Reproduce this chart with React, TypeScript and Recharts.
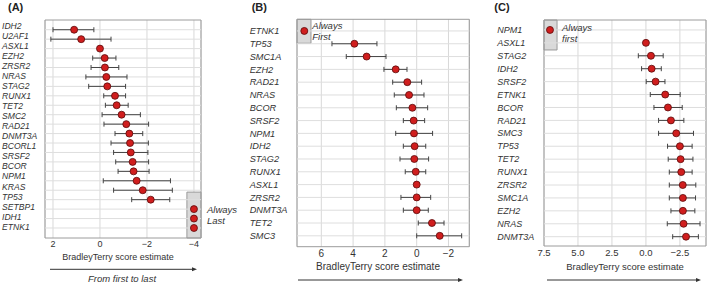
import { ScatterChart, Scatter, XAxis, YAxis, CartesianGrid, ErrorBar, ReferenceArea, ReferenceLine } from 'recharts'

// (A) from first to last: 22 fitted rows, 21 gene labels down the side
const genesA = ['IDH2', 'U2AF1', 'ASXL1', 'EZH2', 'ZRSR2', 'NRAS', 'STAG2', 'RUNX1', 'TET2', 'SMC2', 'RAD21',
  'DNMT3A', 'BCORL1', 'SRSF2', 'BCOR', 'NPM1', 'KRAS', 'TP53', 'SETBP1', 'IDH1', 'ETNK1']
const scoreA = [1.1, 0.8, 0, -0.2, -0.21, -0.27, -0.31, -0.64, -0.71, -0.92, -1.12, -1.25, -1.28, -1.31, -1.39,
  -1.43, -1.56, -1.82, -2.16, -4, -4, -4]
const upperA = [2.0, 2.09, null, 0.31, 0.38, 0.6, 0.48, -0.16, -0.23, -0.09, -0.17, -0.64, -0.47, -0.58, -0.67,
  -0.77, -0.14, -0.58, -1.35, null, null, null]
const lowerA = [0.26, -0.47, null, -0.68, -0.8, -1.15, -1.09, -1.09, -1.2, -1.72, -2.07, -1.82, -2.06, -2.04, -2.07,
  -2.09, -3.0, -3.08, -2.97, null, null, null]

// (B)
const genesB = ['ETNK1', 'TP53', 'SMC1A', 'EZH2', 'RAD21', 'NRAS', 'BCOR', 'SRSF2', 'NPM1', 'IDH2', 'STAG2',
  'RUNX1', 'ASXL1', 'ZRSR2', 'DNMT3A', 'TET2', 'SMC3']
const scoreB = [7.07, 3.92, 3.15, 1.32, 0.59, 0.48, 0.27, 0.19, 0.17, 0.13, 0.15, 0.06, 0, 0, 0, -0.96, -1.45]
const upperB = [null, 5.33, 4.43, 2.06, 1.51, 1.41, 1.28, 0.84, 1.32, 0.84, 1.05, 0.72, null, 0.99, 0.84, -0.1, 0]
const lowerB = [null, 2.5, 1.93, 0.61, -0.31, -0.46, -0.69, -0.5, -1.0, -0.57, -0.75, -0.57, null, -0.88, -0.73,
  -1.72, -2.83]

// (C)
const genesC = ['NPM1', 'ASXL1', 'STAG2', 'IDH2', 'SRSF2', 'ETNK1', 'BCOR', 'RAD21', 'SMC3', 'TP53', 'TET2',
  'RUNX1', 'ZRSR2', 'SMC1A', 'EZH2', 'NRAS', 'DNMT3A']
const scoreC = [7.06, 0, -0.37, -0.42, -0.71, -1.42, -1.62, -1.84, -2.23, -2.5, -2.55, -2.6, -2.71, -2.72, -2.72,
  -2.77, -2.95]
const upperC = [null, null, 0.56, 0.32, -0.02, -0.32, -0.59, -0.93, -0.93, -1.59, -1.64, -1.72, -1.72, -1.72,
  -1.84, -1.57, -1.97]
const lowerC = [null, null, -1.27, -1.13, -1.4, -2.52, -2.67, -2.79, -3.5, -3.4, -3.46, -3.4, -3.67, -3.65,
  -3.6, -3.98, -3.86]

const ticksA = [2, 0, -2, -4]
const ticksB = [6, 4, 2, 0, -2]
const ticksC = [7.5, 5, 2.5, 0, -2.5]

const RED = '#d01e1e'
const INK = '#333'
const FONT = '"Liberation Sans", Arial, sans-serif'

type Row = { row: number; score: number; err?: [number, number] }

function splitRows(score: number[], upper: (number | null)[], lower: (number | null)[]) {
  const ranged: Row[] = []
  const fixed: Row[] = []
  score.forEach((s, i) => {
    const hi = upper[i]
    const lo = lower[i]
    if (hi === null || lo === null) fixed.push({ row: i + 1, score: s })
    else ranged.push({ row: i + 1, score: s, err: [s - lo, hi - s] })
  })
  return { ranged, fixed }
}

const minus = (v: number, digits = 0) => {
  const s = Math.abs(v).toFixed(digits)
  return v < 0 ? '\u2212' + s : s
}

const Dot = (p: any) => (
  <circle cx={p.cx} cy={p.cy} r={3.5} fill={RED} stroke="#5a0a0a" strokeWidth={0.8} />
)

interface PanelProps {
  left: number
  width: number
  plotLeft: number
  plotRight: number
  plotTop: number
  plotBottom: number
  xDomain: [number, number]
  xTicks: number[]
  digits: number
  yDomain: [number, number]
  nRows: number
  labelTicks: number[]
  labels: string[]
  labelX: number
  labelSize: number
  tickSize: number
  box: { x: [number, number]; y: [number, number] }
  score: number[]
  upper: (number | null)[]
  lower: (number | null)[]
}

function Panel(p: PanelProps) {
  const { ranged, fixed } = splitRows(p.score, p.upper, p.lower)
  const rows = Array.from({ length: p.nRows }, (_, i) => i + 1)
  const geneTick = (t: any) => (
    <text x={p.labelX} y={t.y} dy="0.35em" textAnchor="start" fontStyle="italic" fontSize={p.labelSize} fill={INK}>
      {p.labels[t.index]}
    </text>
  )
  return (
    <div style={{ position: 'absolute', left: p.left, top: 0 }}>
      <ScatterChart
        width={p.width}
        height={283}
        margin={{ top: p.plotTop, right: p.width - p.plotRight, bottom: 283 - p.plotBottom - 15, left: 0 }}
      >
        <CartesianGrid horizontal={false} stroke="#d8d8d8" />
        {rows.map(r => (
          <ReferenceLine key={r} y={r} stroke="#dedede" strokeWidth={1} />
        ))}
        <XAxis
          type="number"
          dataKey="score"
          domain={p.xDomain}
          ticks={p.xTicks}
          reversed
          allowDataOverflow
          height={15}
          axisLine={false}
          tickLine={false}
          tickSize={0}
          tickMargin={3}
          interval={0}
          tickFormatter={(v: number) => minus(v, p.digits)}
          tick={{ fontSize: p.tickSize, fill: INK }}
        />
        <YAxis
          type="number"
          dataKey="row"
          domain={p.yDomain}
          ticks={p.labelTicks}
          reversed
          allowDataOverflow
          width={p.plotLeft}
          axisLine={false}
          tickLine={false}
          interval={0}
          tick={geneTick}
        />
        <ReferenceArea
          x1={p.box.x[0]}
          x2={p.box.x[1]}
          y1={p.box.y[0]}
          y2={p.box.y[1]}
          fill="#d9d9d9"
          fillOpacity={1}
          stroke="#999"
        />
        <ReferenceArea
          x1={p.xDomain[0]}
          x2={p.xDomain[1]}
          y1={p.yDomain[0]}
          y2={p.yDomain[1]}
          fill="none"
          stroke="#9c9c9c"
        />
        <Scatter data={ranged} shape={Dot} isAnimationActive={false}>
          <ErrorBar dataKey="err" direction="x" width={2.5} stroke="#444" strokeWidth={1} isAnimationActive={false} />
        </Scatter>
        <Scatter data={fixed} shape={Dot} isAnimationActive={false} />
      </ScatterChart>
    </div>
  )
}

function Arrow({ x1, x2, y }: { x1: number; x2: number; y: number }) {
  return (
    <g>
      <line x1={x1} y1={y} x2={x2 - 3} y2={y} stroke="#333" strokeWidth={1} />
      <polygon points={`${x2},${y} ${x2 - 5},${y - 2} ${x2 - 5},${y + 2}`} fill="#333" />
    </g>
  )
}

export default function App() {
  const rowsB = genesB.map((_, i) => i + 1)
  const rowsC = genesC.map((_, i) => i + 1)
  // labels in (A) are spaced a little wider than the fitted rows
  const labelRowsA = genesA.map((_, i) => 0.576 + i * 1.0646)
  const t = { fontStyle: 'italic', fill: INK } as const
  return (
    <div style={{ position: 'absolute', left: 0, top: 0, width: 709, height: 283, background: '#fff', fontFamily: FONT }}>
      <Panel
        left={0} width={240} plotLeft={45} plotRight={201} plotTop={20} plotBottom={238}
        xDomain={[-4.3, 2.34]} xTicks={ticksA} digits={0}
        yDomain={[-0.03, 23.06]} nRows={22} labelTicks={labelRowsA} labels={genesA}
        labelX={2} labelSize={8.6} tickSize={9}
        box={{ x: [-3.7, -4.3], y: [18.2, 23.06] }}
        score={scoreA} upper={upperA} lower={lowerA}
      />
      <Panel
        left={235} width={237} plotLeft={62} plotRight={234.3} plotTop={19.3} plotBottom={246.7}
        xDomain={[-3.31, 7.53]} xTicks={ticksB} digits={0}
        yDomain={[0.09, 17.85]} nRows={17} labelTicks={rowsB} labels={genesB}
        labelX={14.7} labelSize={9.2} tickSize={10}
        box={{ x: [6.65, 7.53], y: [0.09, 1.96] }}
        score={scoreB} upper={upperB} lower={lowerB}
      />
      <Panel
        left={470} width={239} plotLeft={74} plotRight={236} plotTop={20} plotBottom={246}
        xDomain={[-4.42, 7.5]} xTicks={ticksC} digits={1}
        yDomain={[0.23, 17.72]} nRows={17} labelTicks={rowsC} labels={genesC}
        labelX={27.3} labelSize={9} tickSize={9.5}
        box={{ x: [6.54, 7.5], y: [0.23, 2.55] }}
        score={scoreC} upper={upperC} lower={lowerC}
      />
      <svg width={709} height={283} style={{ position: 'absolute', left: 0, top: 0, pointerEvents: 'none' }}>
        <text x={8} y={11} fontSize={11} fontWeight="bold" fill="#222">(A)</text>
        <text x={251.7} y={11} fontSize={11} fontWeight="bold" fill="#222">(B)</text>
        <text x={494.3} y={11} fontSize={11} fontWeight="bold" fill="#222">(C)</text>

        <text x={207} y={213.4} fontSize={9.5} {...t}>Always</text>
        <text x={207} y={224} fontSize={9.5} {...t}>Last</text>
        <text x={312.3} y={28.7} fontSize={9.5} {...t}>Always</text>
        <text x={312.3} y={40} fontSize={9.5} {...t}>First</text>
        <text x={562} y={30.7} fontSize={9.5} {...t}>Always</text>
        <text x={562} y={42.4} fontSize={9.5} {...t}>first</text>

        <text x={118} y={260} fontSize={9} fill={INK} textAnchor="middle">BradleyTerry score estimate</text>
        <text x={378} y={270} fontSize={10} fill={INK} textAnchor="middle">BradleyTerry score estimate</text>
        <text x={625} y={270} fontSize={9.5} fill={INK} textAnchor="middle">BradleyTerry score estimate</text>

        <Arrow x1={50} x2={197} y={269.3} />
        <Arrow x1={298} x2={463} y={280} />
        <Arrow x1={547} x2={701} y={280} />
        <text x={122} y={281.5} fontSize={9.5} textAnchor="middle" {...t}>From first to last</text>
      </svg>
    </div>
  )
}
